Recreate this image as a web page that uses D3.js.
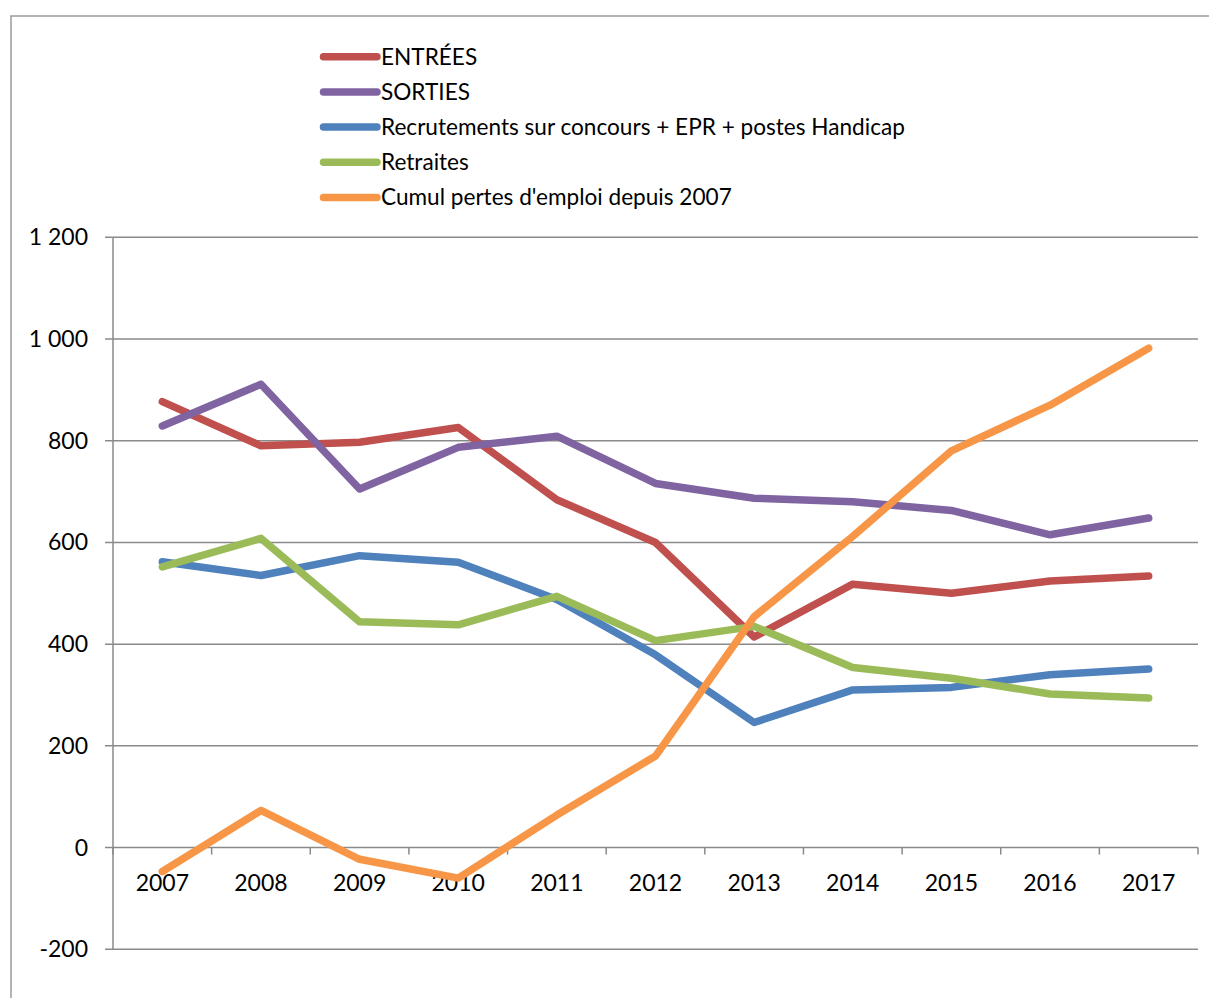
<!DOCTYPE html>
<html><head><meta charset="utf-8">
<script src="https://cdn.jsdelivr.net/npm/d3@7"></script>
<style>html,body{margin:0;padding:0;background:#fff;}svg{display:block;}</style>
</head><body>
<svg id="c" width="1209" height="998"></svg>
<script>
const years = ["2007","2008","2009","2010","2011","2012","2013","2014","2015","2016","2017"];
const entrees = [877, 790, 797, 826, 684, 600, 414, 518, 500, 524, 534];
const sorties = [829, 911, 705, 787, 809, 716, 687, 680, 663, 615, 648];
const recrutements = [562, 535, 574, 561, 488, 379, 246, 310, 315, 340, 351];
const retraites = [552, 608, 444, 438, 494, 407, 435, 354, 333, 302, 294];
const cumul = [-47, 73, -23, -60, 64, 180, 454, 612, 780, 870, 982];
const seriesNames = ["ENTRÉES","SORTIES","Recrutements sur concours + EPR + postes Handicap","Retraites","Cumul pertes d'emploi depuis 2007"];
const seriesColors = ["#C0504D","#8064A2","#4F81BD","#9BBB59","#F79646"];
const yTicks = [-200, 0, 200, 400, 600, 800, 1000, 1200];

const series = [entrees, sorties, recrutements, retraites, cumul].map((v,i)=>({name:seriesNames[i], color:seriesColors[i], values:v}));

const FONT = "Lato, 'Open Sans', sans-serif";
const FS = 23;
const gridColor = "#8a8a8a";
const svg = d3.select("#c");

// outer frame
svg.append("path").attr("d","M11,998 L11,16 L1209,16").attr("fill","none").attr("stroke","#9a9a9a").attr("stroke-width",1.5);

const x = d3.scaleBand().domain(years).range([113,1198]);
const y = d3.scaleLinear().domain([-200,1200]).range([949.3,237.3]);
const loc = d3.formatLocale({decimal:",", thousands:" ", grouping:[3], currency:["","€"], minus:"-"});
const fmt = loc.format(",d");

// gridlines
svg.append("g").selectAll("line").data(yTicks).join("line")
  .attr("x1",105).attr("x2",x.range()[1]).attr("y1",d=>y(d)).attr("y2",d=>y(d))
  .attr("stroke",gridColor).attr("stroke-width",1.5);
// y axis line
svg.append("line").attr("x1",113).attr("x2",113).attr("y1",y(1200)).attr("y2",y(-200)).attr("stroke",gridColor).attr("stroke-width",1.5);
// y labels
svg.append("g").selectAll("text").data(yTicks).join("text")
  .attr("x",88).attr("y",d=>y(d)).attr("dy","0.35em").attr("text-anchor","end")
  .attr("font-family",FONT).attr("font-size",FS).attr("fill","#000").text(d=>fmt(d));
// x axis ticks at band boundaries
const bounds = years.map(d=>x(d)).concat([x.range()[1]]);
svg.append("g").selectAll("line").data(bounds).join("line")
  .attr("x1",d=>d).attr("x2",d=>d).attr("y1",y(0)).attr("y2",y(0)+7)
  .attr("stroke",gridColor).attr("stroke-width",1.5);
// x labels
svg.append("g").selectAll("text").data(years).join("text")
  .attr("x",d=>x(d)+x.bandwidth()/2).attr("y",y(0)+35).attr("dy","0.35em").attr("text-anchor","middle")
  .attr("font-family",FONT).attr("font-size",FS).attr("fill","#000").text(d=>d);

// lines
const line = d3.line().x((d,i)=>x(years[i])+x.bandwidth()/2).y(d=>y(d));
svg.append("g").selectAll("path").data(series).join("path")
  .attr("d",s=>line(s.values)).attr("fill","none").attr("stroke",s=>s.color)
  .attr("stroke-width",7.5).attr("stroke-linecap","round").attr("stroke-linejoin","round");

// legend
const lg = svg.append("g").selectAll("g").data(series).join("g")
  .attr("transform",(s,i)=>`translate(0,${56.7+i*35.2})`);
lg.append("line").attr("x1",323.5).attr("x2",377).attr("y1",0).attr("y2",0)
  .attr("stroke",s=>s.color).attr("stroke-width",7.5).attr("stroke-linecap","round");
lg.append("text").attr("x",381).attr("y",0).attr("dy","0.35em")
  .attr("font-family",FONT).attr("font-size",22.6).attr("fill","#000").text(s=>s.name);
</script>
</body></html>
